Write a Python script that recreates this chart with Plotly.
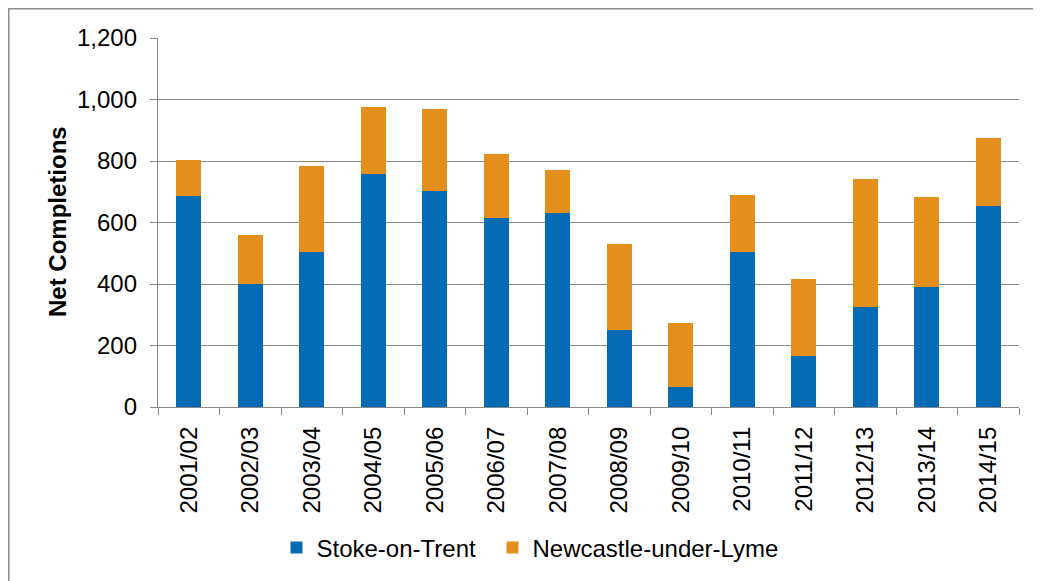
import plotly.graph_objects as go

years = ["2001/02", "2002/03", "2003/04", "2004/05", "2005/06", "2006/07", "2007/08",
         "2008/09", "2009/10", "2010/11", "2011/12", "2012/13", "2013/14", "2014/15"]
stoke = [687, 399, 504, 759, 704, 615, 631, 252, 66, 504, 165, 326, 390, 654]
newcastle = [116, 159, 279, 217, 264, 209, 141, 279, 208, 184, 252, 415, 294, 220]

BLUE = "#066BB5"
ORANGE = "#E48F1B"
GRID = "#878787"
FONT = "Liberation Sans, Arial, sans-serif"

OFF = 8  # page body margin
W, H = 1041 - OFF, 581 - OFF
L, R_EDGE, T, B_EDGE = 158 - OFF, 1019 - OFF, 38 - OFF, 407 - OFF
PW, PH = R_EDGE - L, B_EDGE - T


def px(xs):
    return (xs - OFF - L) / PW


def py(ys):
    return (B_EDGE - (ys - OFF)) / PH


fig = go.Figure()
fig.add_trace(go.Bar(x=years, y=stoke, name="Stoke-on-Trent", legend="legend",
                     marker=dict(color=BLUE, line=dict(width=0))))
fig.add_trace(go.Bar(x=years, y=newcastle, name="Newcastle-under-Lyme", legend="legend2",
                     marker=dict(color=ORANGE, line=dict(width=0))))

leg_common = dict(orientation="h", yanchor="middle", xanchor="left",
                  font=dict(size=24, family=FONT, color="#000000"),
                  bgcolor="rgba(0,0,0,0)", borderwidth=0)

fig.update_layout(
    barmode="stack",
    bargap=0.6,
    width=W, height=H,
    margin=dict(l=L, r=W - R_EDGE, t=T, b=H - B_EDGE, autoexpand=False, pad=0),
    paper_bgcolor="white", plot_bgcolor="white",
    font=dict(family=FONT, size=24, color="#000000"),
    showlegend=True,
    legend=dict(x=px(276.5), y=py(548), **leg_common),
    legend2=dict(x=px(492.5), y=py(548), **leg_common),
    xaxis=dict(type="category", tickson="boundaries", ticks="outside", ticklen=7,
               tickcolor=GRID, tickwidth=1.3, showline=True, linecolor=GRID, linewidth=1.3,
               showgrid=False, tickangle=-90, tickfont=dict(size=24), automargin=False,
               ticklabelstandoff=9),
    yaxis=dict(range=[0, 1200], tickvals=[0, 200, 400, 600, 800, 1000, 1200],
               ticktext=["0", "200", "400", "600", "800", "1,000", "1,200"],
               ticks="outside", ticklen=7, tickcolor=GRID, tickwidth=1.3,
               showline=True, linecolor=GRID, linewidth=1.3,
               showgrid=True, gridcolor=GRID, gridwidth=1.3, zeroline=False,
               tickfont=dict(size=24), automargin=False, ticklabelstandoff=8),
    annotations=[dict(text="<b>Net Completions</b>", textangle=-90, xref="paper", yref="paper",
                      x=px(57), y=py(222), xanchor="center", yanchor="middle",
                      showarrow=False, font=dict(size=24, family=FONT, color="#000000"))],
    shapes=[dict(type="rect", xref="paper", yref="paper",
                 x0=px(8.5), x1=px(1060), y0=py(600), y1=py(8.5),
                 line=dict(color="#8C8C8C", width=2), fillcolor="rgba(0,0,0,0)", layer="below")],
)

fig.write_html("out.html")
